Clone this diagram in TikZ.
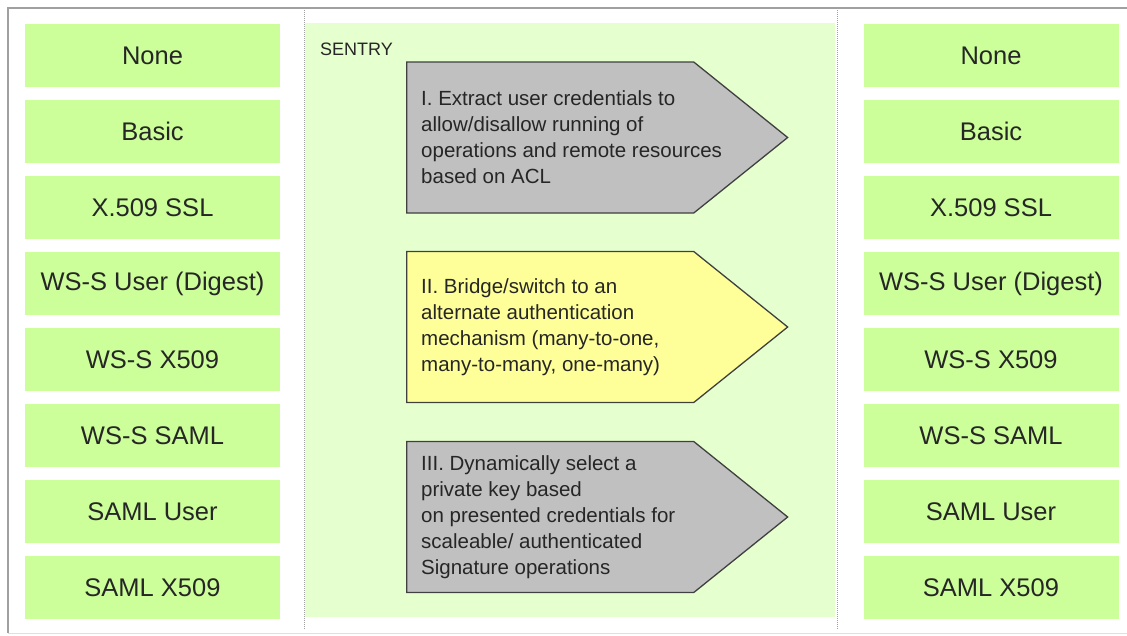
\documentclass[tikz,border=0pt]{standalone}
\usepackage{fontspec}
\setmainfont{Liberation Sans}
\usetikzlibrary{shapes.symbols}
\definecolor{boxgreen}{RGB}{204,255,153}
\definecolor{panelgreen}{RGB}{230,255,206}
\definecolor{arrowgray}{RGB}{192,192,192}
\definecolor{arrowyellow}{RGB}{255,255,153}
\definecolor{framegray}{RGB}{160,160,160}

\begin{document}
\begin{tikzpicture}[x=1pt, y=-1pt,
  mechbox/.style={fill=boxgreen, minimum width=255pt, minimum height=63pt, inner sep=0pt,
    text=black!85, font=\fontsize{25.5}{28}\selectfont},
  stagearrow/.style={shape=signal, signal to=east, signal from=nowhere, signal pointer angle=77.6,
    minimum width=381pt, minimum height=151pt, inner sep=0pt, draw=black!75, line width=1.3pt, anchor=west},
  stagetext/.style={anchor=west, align=left, inner sep=0pt, text=black!85, font=\fontsize{20.5}{26}\selectfont},
  divider/.style={framegray, densely dotted, line width=1pt}]
\useasboundingbox (0,0) rectangle (1127,635);

% frame
\draw[framegray, line width=1.2pt] (1127,8) -- (8,8) -- (8,633);
\draw[black!12, line width=1pt] (8,633) -- (1127,633);

% sentry panel
\fill[panelgreen] (305,23) rectangle (835,617);
\coordinate (divl-top) at (304,8);
\coordinate (divl-bot) at (304,630);
\coordinate (divr-top) at (837,8);
\coordinate (divr-bot) at (837,630);
\draw[divider] (divl-top) -- (divl-bot);
\draw[divider] (divr-top) -- (divr-bot);
\node[anchor=base west, inner sep=0pt, text=black!85, font=\fontsize{18}{20}\selectfont] (sentry) at (320,55) {SENTRY};

% mechanisms, both sides
\foreach \name [count=\i from 0] in {None, Basic, X.509 SSL, WS-S User (Digest), WS-S X509, WS-S SAML, SAML User, SAML X509} {
  \node[mechbox] (in-\i) at (152.5,55.5+76*\i) {\name};
  \node[mechbox] (out-\i) at (991,55.5+76*\i) {\name};
}

% stages
\node[stagearrow, fill=arrowgray] (extract) at (406,137.5) {};
\node[stagetext] (extract-txt) at ([xshift=15pt]extract.west) {I. Extract user credentials to\\allow/disallow running of\\operations and remote resources\\based on ACL};

\node[stagearrow, fill=arrowyellow] (bridge) at (406,327) {};
\node[stagetext] (bridge-txt) at ([xshift=15pt]bridge.west) {II. Bridge/switch to an\\alternate authentication\\mechanism (many-to-one,\\many-to-many, one-many)};

\node[stagearrow, fill=arrowgray] (select) at (406,517) {};
\node[stagetext] (select-txt) at ([xshift=15pt]select.west) {III. Dynamically select a\\private key based\\on presented credentials for\\scaleable/ authenticated\\Signature operations};
\end{tikzpicture}
\end{document}
